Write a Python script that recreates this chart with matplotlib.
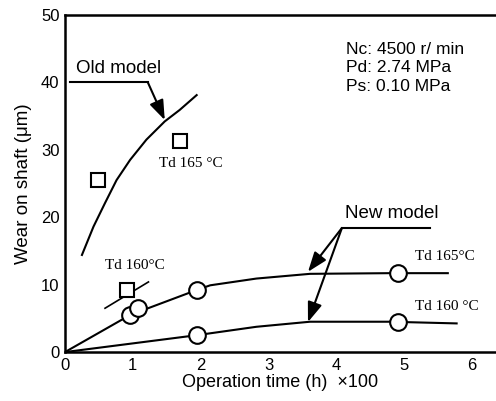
import matplotlib
matplotlib.use("Agg")
import matplotlib.pyplot as plt

# old model curve and its square test points
old_x = [0.25, 0.42, 0.59, 0.76, 0.96, 1.20, 1.47, 1.69, 1.94]
old_y = [14.4, 18.6, 22.1, 25.5, 28.5, 31.5, 34.2, 35.9, 38.1]
old_sq_x = [0.49, 1.69]
old_sq_y = [25.5, 31.3]
sq160_x = [0.91]
sq160_y = [9.2]

# new model curves and circle test points
new165_x = [0, 0.96, 1.94, 2.14, 2.82, 3.61, 4.79, 5.64]
new165_y = [0, 5.5, 9.2, 9.9, 10.9, 11.6, 11.7, 11.7]
c165_x = [0.96, 1.08, 1.94, 4.90]
c165_y = [5.5, 6.5, 9.2, 11.7]
new160_x = [0, 1.94, 2.82, 3.61, 4.79, 5.77]
new160_y = [0, 2.5, 3.75, 4.5, 4.5, 4.25]
c160_x = [1.94, 4.90]
c160_y = [2.5, 4.5]

plt.rcParams['font.family'] = ['Liberation Sans', 'DejaVu Sans']
SERIF = ['Liberation Serif', 'DejaVu Serif']

fig = plt.figure(figsize=(4.96, 4.01), dpi=100)
ax = fig.add_axes([0.131, 0.122, 0.869, 0.841])

lw = 1.5
ax.plot(old_x, old_y, color='black', lw=lw)
ax.plot(new165_x, new165_y, color='black', lw=lw)
ax.plot(new160_x, new160_y, color='black', lw=lw)
mk = dict(color='black', lw=0, markerfacecolor='white',
          markeredgecolor='black', markeredgewidth=1.5)
ax.plot(c165_x, c165_y, marker='o', markersize=12, **mk)
ax.plot(c160_x, c160_y, marker='o', markersize=12, **mk)
ax.plot(old_sq_x, old_sq_y, marker='s', markersize=10.5, **mk)
# Td 160 leader line through the square
ax.plot([0.59, 1.23], [6.5, 10.4], color='black', lw=1.2, zorder=1)
ax.plot(sq160_x, sq160_y, marker='s', markersize=10.5, zorder=3, **mk)

arrow = dict(arrowstyle='-|>,head_length=0.6,head_width=0.22', color='black',
             lw=lw, mutation_scale=20, shrinkA=0, shrinkB=0)

# old model label
ax.plot([0.07, 1.22], [40.0, 40.0], color='black', lw=lw)
ax.annotate('', xy=(1.47, 34.4), xytext=(1.22, 40.0), arrowprops=arrow)
ax.text(0.16, 42.1, 'Old model', fontsize=13.5, ha='left', va='center')

# new model label
ax.plot([4.08, 5.38], [18.4, 18.4], color='black', lw=lw)
for tx, ty in [(3.58, 11.9), (3.58, 4.45)]:
    ax.annotate('', xy=(tx, ty), xytext=(4.08, 18.4), arrowprops=arrow)
ax.text(4.12, 20.6, 'New model', fontsize=13.5, ha='left', va='center')

ax.text(1.38, 28.0, 'Td 165 °C', family=SERIF, fontsize=11, va='center')
ax.text(0.59, 12.8, 'Td 160°C', family=SERIF, fontsize=11, va='center')
ax.text(5.15, 14.1, 'Td 165°C', family=SERIF, fontsize=11, va='center')
ax.text(5.15, 6.7, 'Td 160 °C', family=SERIF, fontsize=11, va='center')

ax.text(4.14, 46.0, 'Nc: 4500 r/ min\nPd: 2.74 MPa\nPs: 0.10 MPa',
        fontsize=12.5, va='top', ha='left', linespacing=1.3)

ax.set_xlim(0, 6.35)
ax.set_ylim(0, 50)
ax.set_xticks(range(0, 7))
ax.set_yticks(range(0, 51, 10))
ax.tick_params(length=0, labelsize=12, pad=4)
for s in ['left', 'bottom', 'top']:
    ax.spines[s].set_linewidth(1.8)
ax.spines['right'].set_visible(False)

ax.set_xlabel('Operation time (h)  ×100', fontsize=13, labelpad=1)
ax.set_ylabel('Wear on shaft (μm)', fontsize=13.5, labelpad=6)

fig.savefig('out.png', dpi=100)
